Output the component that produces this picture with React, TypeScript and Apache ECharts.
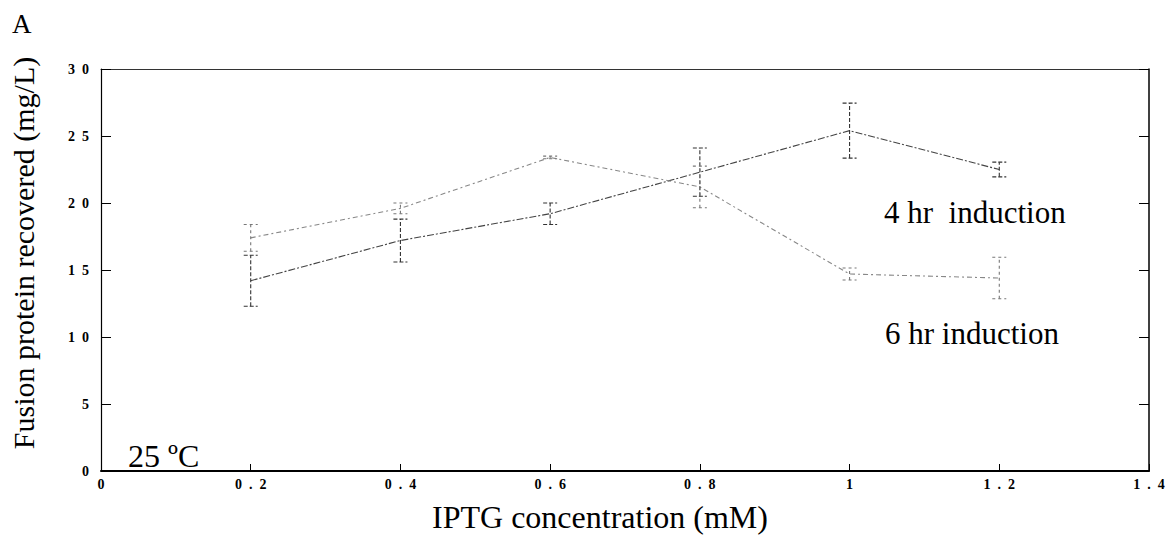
import React, { useEffect, useRef } from "react";
import * as echarts from "echarts";

const xValues = [0.2, 0.4, 0.6, 0.8, 1.0, 1.2];
const seriesA = [14.2, 17.2, 19.2, 22.3, 25.4, 22.5];
const errA = [1.9, 1.6, 0.8, 1.8, 2.05, 0.55];
const seriesB = [17.4, 19.6, 23.4, 21.2, 14.7, 14.4];
const errB = [1.0, 0.4, 0.1, 1.55, 0.45, 1.55];

const serif = "'Liberation Serif', 'DejaVu Serif', serif";
const spaced = (v: number) => String(v).split("").join("  ");

function errorSeries(name: string, vals: number[], errs: number[], color: string, dash: number[]) {
  const data = xValues.map((x, i) => [x, vals[i] - errs[i], vals[i] + errs[i]]);
  return {
    type: "custom",
    name,
    data,
    encode: { x: 0, y: [1, 2] },
    z: 3,
    renderItem: (params: any, api: any) => {
      const x = api.value(0);
      const lo = api.coord([x, api.value(1)]);
      const hi = api.coord([x, api.value(2)]);
      const w = 7;
      const style = { stroke: color, lineWidth: 1.1, lineDash: dash, fill: "none" };
      return {
        type: "group",
        children: [
          { type: "line", shape: { x1: lo[0], y1: lo[1], x2: hi[0], y2: hi[1] }, style },
          { type: "line", shape: { x1: lo[0] - w, y1: lo[1], x2: lo[0] + w, y2: lo[1] }, style },
          { type: "line", shape: { x1: hi[0] - w, y1: hi[1], x2: hi[0] + w, y2: hi[1] }, style },
        ],
      };
    },
  };
}

export default function App() {
  const ref = useRef<HTMLDivElement>(null);
  useEffect(() => {
    if (!ref.current) return;
    const chart = echarts.init(ref.current, null, { renderer: "svg" });
    const axisLabel = { fontFamily: serif, fontSize: 14, fontWeight: "bold", color: "#000" };
    chart.setOption({
      animation: false,
      backgroundColor: "#fff",
      grid: { left: 101, right: 27, top: 69, bottom: 70, containLabel: false },
      xAxis: [
        {
          type: "value", min: 0, max: 1.4, interval: 0.2,
          axisLine: { onZero: false, lineStyle: { color: "#000", width: 2 } },
          axisTick: { inside: true, length: 7, lineStyle: { color: "#000" } },
          splitLine: { show: false },
          axisLabel: { ...axisLabel, formatter: (v: number) => spaced(Math.round(v * 10) / 10), margin: 6 },
        },
        {
          type: "value", position: "top", min: 0, max: 1.4, interval: 0.2,
          axisLine: { show: true, onZero: false, lineStyle: { color: "#333", width: 1 } },
          axisTick: { show: false }, axisLabel: { show: false }, splitLine: { show: false },
        },
      ],
      yAxis: [
        {
          type: "value", min: 0, max: 30, interval: 5,
          axisLine: { show: true, onZero: false, lineStyle: { color: "#000", width: 1.2 } },
          axisTick: { inside: true, length: 10, lineStyle: { color: "#000" } },
          splitLine: { show: false },
          axisLabel: { ...axisLabel, formatter: (v: number) => spaced(v), margin: 12 },
        },
        {
          type: "value", position: "right", min: 0, max: 30, interval: 5,
          axisLine: { show: true, onZero: false, lineStyle: { color: "#000", width: 1.5 } },
          axisTick: { inside: true, length: 10, lineStyle: { color: "#000" } },
          axisLabel: { show: false }, splitLine: { show: false },
        },
      ],
      graphic: [
        { type: "text", x: 12, y: 24, style: { text: "A", font: `27px ${serif}`, fill: "#000", verticalAlign: "middle" } },
        { type: "text", x: 128, y: 456, style: { text: "25 ºC", font: `32px ${serif}`, fill: "#000", verticalAlign: "middle" } },
        { type: "text", x: 884, y: 212, style: { text: "4 hr  induction", font: `31px ${serif}`, fill: "#000", verticalAlign: "middle" } },
        { type: "text", x: 885, y: 333, style: { text: "6 hr induction", font: `31px ${serif}`, fill: "#000", verticalAlign: "middle" } },
        { type: "text", x: 600, y: 517, style: { text: "IPTG concentration (mM)", font: `32px ${serif}`, fill: "#000", align: "center", verticalAlign: "middle" } },
        { type: "text", x: 23, y: 253, rotation: Math.PI / 2, style: { text: "Fusion protein recovered (mg/L)", font: `30px ${serif}`, fill: "#000", align: "center", verticalAlign: "middle" } },
      ],
      series: [
        {
          type: "line", name: "A", data: xValues.map((x, i) => [x, seriesA[i]]),
          symbol: "none", lineStyle: { color: "#444", width: 1.1, type: [7, 2, 2, 2] }, z: 2,
        },
        {
          type: "line", name: "B", data: xValues.map((x, i) => [x, seriesB[i]]),
          symbol: "none", lineStyle: { color: "#888", width: 1.1, type: [5, 3, 2, 3] }, z: 2,
        },
        errorSeries("errA", seriesA, errA, "#333", [4, 2]),
        errorSeries("errB", seriesB, errB, "#777", [3, 3]),
      ],
    });
    return () => chart.dispose();
  }, []);
  return <div ref={ref} style={{ width: 1176, height: 541, position: "absolute", left: 0, top: 0 }} />;
}
